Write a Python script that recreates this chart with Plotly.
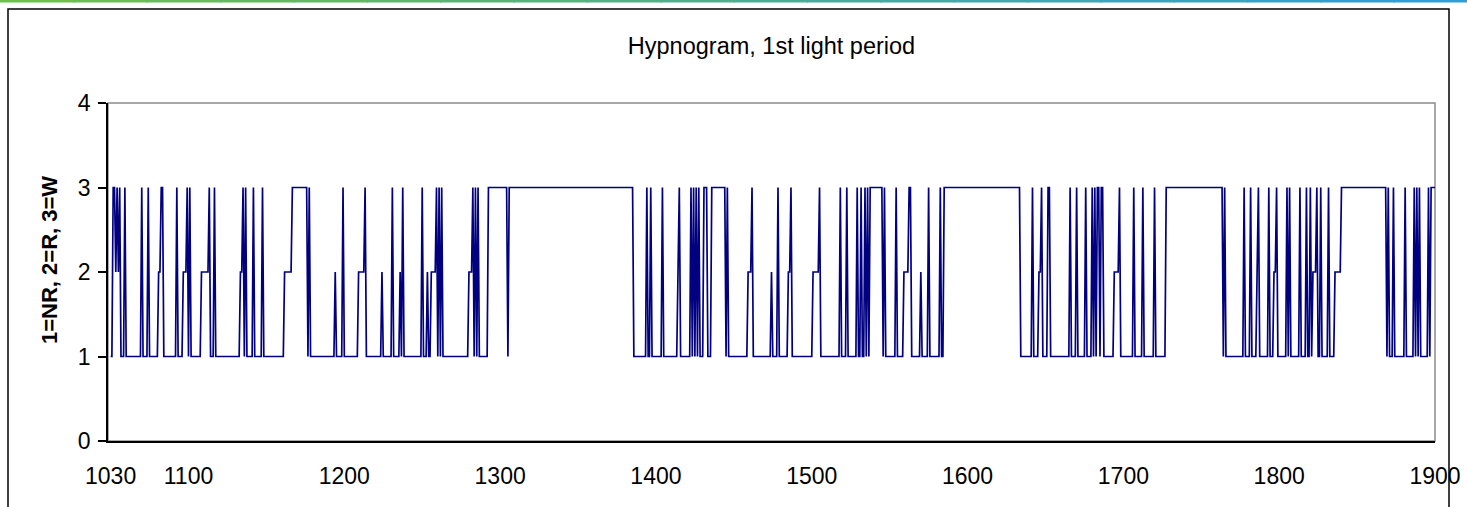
import numpy as np
import plotly.graph_objects as go

# sleep stage scoring, 1st light period (10:30 - 19:00)
# stage_start = minutes after 10:30 where a new stage begins, stage = 1 NR / 2 R / 3 W
stage_start = [
    0, 1, 2, 2.5, 3, 3.5, 4, 5.5, 6, 12, 12.5, 14.5, 15, 18.5, 19.5, 20.5, 25.5, 26,
    28, 29.5, 30, 30.5, 31, 35, 38, 38.5, 40, 40.5, 50, 51, 51.5, 52, 52.5, 55, 55.5,
    58.5, 59, 67, 70, 76, 76.5, 77, 86.5, 87, 89.5, 90, 95.5, 98, 98.5, 104.5, 105,
    108.5, 109, 111.5, 112, 112.5, 113, 120, 120.5, 122, 122.5, 123.5, 125.5, 126,
    126.5, 127, 127.5, 128, 138, 139.5, 140, 140.5, 141, 141.5, 142, 145.5, 153, 153.5,
    201.5, 206.5, 207, 208, 208.5, 212.5, 213, 218.5, 219, 219.5, 223.5, 224, 224.5,
    225, 225.5, 226, 226.5, 227, 228.5, 230, 231.5, 237, 237.5, 238, 245.5, 247, 247.5,
    254.5, 255, 257, 257.5, 261, 262, 262.5, 270.5, 273, 273.5, 281, 281.5, 283.5, 284,
    287.5, 288, 289, 289.5, 290.5, 291, 291.5, 292, 292.5, 297.5, 298, 298.5, 302.5,
    303, 305.5, 307.5, 308.5, 312, 312.5, 315, 315.5, 319.5, 320, 321, 350.5, 355,
    355.5, 357.5, 358.5, 359, 361, 362, 369.5, 370, 372, 372.5, 375.5, 376, 378, 378.5,
    379, 379.5, 380, 381, 381.5, 382.5, 386.5, 388.5, 389, 394, 394.5, 397.5, 398, 402,
    402.5, 406.5, 428.5, 429, 429.5, 436.5, 437, 439, 439.5, 441.5, 442, 442.5, 446,
    446.5, 448, 449, 449.5, 453, 453.5, 454, 454.5, 458, 458.5, 460.5, 461, 462, 462.5,
    463, 464.5, 465, 466, 466.5, 469, 469.5, 471.5, 474, 491.5, 492, 492.5, 494, 494.5,
    498.5, 499, 502, 502.5, 503, 503.5, 504, 504.5, 507.5, 508, 508.5,
]
stage = [
    1, 3, 2, 3, 2, 3, 1, 3, 1, 3, 1, 3, 1, 2, 3, 1, 3, 1,
    2, 3, 1, 3, 1, 2, 3, 1, 3, 1, 2, 3, 1, 3, 1, 3, 1,
    3, 1, 2, 3, 1, 3, 1, 2, 1, 3, 1, 2, 3, 1, 2, 1,
    3, 1, 2, 1, 3, 1, 3, 1, 2, 1, 2, 3, 1,
    3, 1, 3, 1, 2, 3, 1, 3, 1, 3, 1, 3, 1, 3,
    1, 3, 1, 3, 1, 3, 1, 2, 3, 1, 3, 1, 3,
    1, 3, 1, 3, 1, 3, 1, 3, 1, 3, 1, 2, 3, 1,
    2, 1, 3, 1, 2, 3, 1, 2, 3, 1, 3, 1, 3, 1,
    3, 1, 3, 1, 3, 1, 3, 1, 3, 1, 3, 1, 3,
    1, 2, 3, 1, 2, 1, 3, 1, 3, 1, 3, 1, 3,
    1, 2, 3, 1, 3, 1, 3, 1, 3, 1, 3, 1, 3, 1,
    3, 1, 3, 1, 3, 1, 2, 3, 1, 3, 1, 3, 1, 3,
    1, 3, 1, 3, 1, 3, 1, 3, 1, 2, 3, 1, 3,
    1, 2, 3, 1, 3, 1, 3, 1, 3, 1, 3, 1, 3, 1,
    2, 3, 1, 3, 1, 3, 1, 2, 3, 1, 3, 1, 3, 1,
    3, 1, 3, 1, 3, 1, 3, 1, 3, 1, 3,
]
end_min = 510
epoch_min = 0.5

tick_min = [0, 30, 90, 150, 210, 270, 330, 390, 450, 510]
tick_text = ["1030", "1100", "1200", "1300", "1400", "1500", "1600", "1700", "1800", "1900"]

# expand the stage runs into one value per 30 s epoch
t = np.arange(0, end_min + epoch_min / 2, epoch_min)
idx = np.searchsorted(np.array(stage_start), t, side="right") - 1
y = np.array(stage)[idx]

fig = go.Figure(go.Scatter(x=t, y=y, mode="lines",
                           line=dict(color="#000080", width=1.7), hoverinfo="skip"))

FONT = "Liberation Sans, Arial, sans-serif"

fig.update_layout(
    width=1467, height=507,
    margin=dict(l=108, r=32, t=103, b=66, autoexpand=False),
    paper_bgcolor="white", plot_bgcolor="white",
    showlegend=False,
    font=dict(family=FONT, color="black", size=22),
    title=dict(text="Hypnogram, 1st light period", x=0.5, xref="paper", xanchor="center",
               y=1 - 46 / 507, yanchor="middle", font=dict(size=23.5)),
)
fig.update_xaxes(range=[-1, 510], tickvals=tick_min, ticktext=tick_text, automargin=False,
                 showgrid=False, zeroline=False, showline=True, linecolor="black", linewidth=1.5,
                 ticks="", ticklabelstandoff=14, tickfont=dict(size=23))
fig.update_yaxes(range=[0, 4], tickvals=[0, 1, 2, 3, 4], showgrid=False, zeroline=False,
                 showline=True, linecolor="black", linewidth=1.5, automargin=False,
                 ticks="outside", ticklen=8, tickcolor="black", tickwidth=1.5,
                 ticklabelstandoff=3, tickfont=dict(size=23))

# y axis title
fig.add_annotation(text="<b>1=NR, 2=R, 3=W</b>", textangle=-90, xref="paper", yref="paper",
                   x=(49 - 108) / 1327, y=(441 - 260) / 338, xanchor="center", yanchor="middle",
                   showarrow=False, font=dict(size=22))

# plot-area frame (gray) and outer chart frame (black)
fig.add_shape(type="rect", xref="paper", yref="paper", x0=0, x1=1, y0=0, y1=1,
              line=dict(color="#8c8c8c", width=1.5), layer="below")
fig.add_shape(type="rect", xref="paper", yref="paper",
              x0=(8 - 108) / 1327, x1=(1449 - 108) / 1327, y0=-0.4, y1=(441 - 9) / 338,
              line=dict(color="black", width=1.5), layer="below")

# thin green-to-blue band on the very top of the page
n_seg = 20
for i in range(n_seg):
    f = i / (n_seg - 1)
    r = int(108 + (47 - 108) * f)
    g = int(192 + (157 - 192) * f)
    b = int(74 + (216 - 74) * f)
    fig.add_shape(type="rect", xref="paper", yref="paper",
                  x0=(0 - 108) / 1327 + i * (1467 / 1327) / n_seg,
                  x1=(0 - 108) / 1327 + (i + 1) * (1467 / 1327) / n_seg + 0.001,
                  y0=(441 - 2.5) / 338, y1=(441 + 1) / 338,
                  line=dict(width=0), fillcolor=f"rgb({r},{g},{b})", layer="above")

# drop the default page margin so the figure sits at the window's top-left corner
fig.write_html("out.html", config={"displayModeBar": False},
               post_script="document.body.style.margin='0';")
